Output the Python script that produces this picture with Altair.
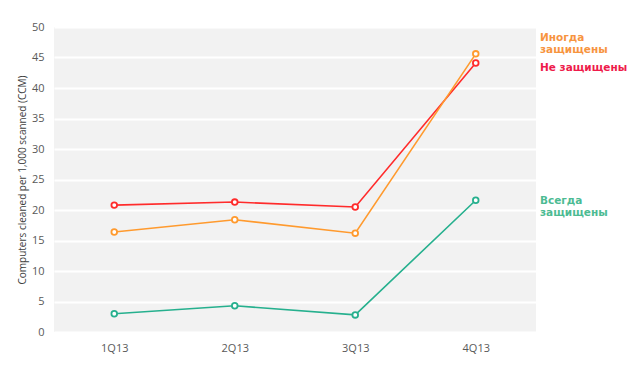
import altair as alt
import pandas as pd

quarters = ["1Q13", "2Q13", "3Q13", "4Q13"]
series_names = ["Не защищены", "Иногда защищены", "Всегда защищены"]
unprotected = [20.8, 21.3, 20.5, 44.1]
sometimes = [16.4, 18.4, 16.2, 45.6]
always = [3.0, 4.3, 2.8, 21.6]
line_colors = ["#ff2b2b", "#ff9a2e", "#26b08e"]

label_lines = [["Не защищены"], ["Иногда", "защищены"], ["Всегда", "защищены"]]
label_y = [43.2, 48.2, 21.4]
label_colors = ["#ee1b4b", "#f7943f", "#4dbb93"]

rows = []
for name, vals in zip(series_names, [unprotected, sometimes, always]):
    for q, v in zip(quarters, vals):
        rows.append({"quarter": q, "series": name, "value": v})
df = pd.DataFrame(rows)

labels_df = pd.DataFrame({"series": series_names, "text": label_lines, "y": label_y,
                          "lc": label_colors})

W, H = 482, 305
Y_TITLE = "Computers cleaned per 1,000 scanned (CCM)"

color = alt.Color("series:N", scale=alt.Scale(domain=series_names, range=line_colors), legend=None)
x = alt.X("quarter:O", sort=quarters, title=None,
          axis=alt.Axis(labelAngle=0, ticks=False, domain=False, labelPadding=10,
                        labelFontSize=11, labelColor="#595959", labelFont="Open Sans"))
y_axis = alt.Axis(values=list(range(0, 51, 5)), ticks=False, domain=False,
                  labelPadding=10, labelFontSize=11, labelColor="#595959",
                  labelFont="Open Sans", titleFont="Open Sans", titleFontSize=10,
                  titleFontWeight="normal", titleColor="#404040", titlePadding=4,
                  gridColor="white", gridWidth=2, gridOpacity=1)
y_scale = alt.Scale(domain=[0, 50])
y = alt.Y("value:Q", scale=y_scale, title=Y_TITLE, axis=y_axis)

lines = alt.Chart(df).mark_line(strokeWidth=1.6).encode(x=x, y=y, color=color)
points = alt.Chart(df).mark_point(filled=False, fill="white", fillOpacity=1, size=32,
                                  strokeWidth=1.8, opacity=1).encode(x=x, y=y, color=color)

labels = alt.Chart(labels_df).mark_text(align="left", baseline="middle", fontSize=10.5,
                                        fontWeight="bold", font="DejaVu Sans",
                                        lineHeight=12, clip=False).encode(
    x=alt.value(W + 4),
    y=alt.Y("y:Q", scale=y_scale, title=Y_TITLE, axis=y_axis),
    text="text",
    color=alt.Color("lc:N", scale=None),
)

chart = alt.layer(lines, points, labels).properties(
    width=W, height=H,
    background="white",
    autosize=alt.AutoSizeParams(type="none"),
    padding={"left": 46, "top": 19, "right": 93, "bottom": 24},
).configure_view(fill="#f2f2f2", stroke=None)

chart.save("out.html", embed_options={"renderer": "svg", "actions": False})
